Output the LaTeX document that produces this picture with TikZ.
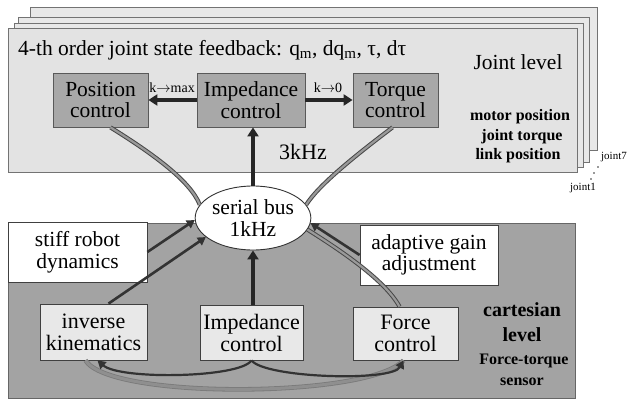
\documentclass[tikz,border=0pt]{standalone}
\usepackage{fontspec}
\setmainfont{Liberation Serif}
\usetikzlibrary{shapes.geometric,arrows.meta}
\newcommand{\fsz}[1]{\fontsize{#1}{#1}\selectfont}
\tikzset{
  sheet/.style={draw=black!55, fill=black!9, line width=0.8pt},
  panel/.style={draw=black!60, fill=black!36, line width=0.8pt},
  upbox/.style={draw=black!65, fill=black!34, line width=0.8pt, align=center, inner sep=0pt, font=\fsz{21.5}},
  lowbox/.style={draw=black!75, fill=black!9, line width=0.8pt, align=center, inner sep=0pt, font=\fsz{22}},
  whitebox/.style={draw=black!75, fill=white, line width=0.8pt, align=center, inner sep=0pt, font=\fsz{21.5}},
  lbl/.style={inner sep=0pt, font=\fsz{#1}},
  lbl/.default=20,
  thickarrow/.style={line width=3.5pt, black!85, -{Triangle[length=9pt,width=11pt]}},
  midarrow/.style={line width=2.6pt, black!80, -{Triangle[length=8pt,width=9pt]}},
  band/.style={draw=black!72, line width=1pt, double=black!40, double distance=2.2pt},
  lowband/.style={draw=black!52, line width=0.8pt, double=black!44, double distance=3pt},
}
\begin{document}
\begin{tikzpicture}[x=1pt,y=-1pt]
\useasboundingbox (0,0) rectangle (628,401);
% stacked joint sheets
\draw[sheet] (30,7) rectangle (597,150);
\draw[sheet] (18,17) rectangle (589,162);
\draw[sheet] (14,23) rectangle (583,167);
\draw[sheet, fill=black!11] (8,28) rectangle (577,172);
% cartesian panel
\draw[panel] (8,223) rectangle (575,398);

% joint level texts
\node[lbl=21.5, anchor=west] (title) at (18,50) {4-th order joint state feedback: q\textsubscript{m}, dq\textsubscript{m}, τ, dτ};
\node[lbl=21.5] (jl) at (518,62) {Joint level};
\node[lbl=16, font=\fsz{16}\bfseries] (mp) at (520,117) {motor position};
\node[lbl=16, font=\fsz{16}\bfseries] (jt) at (522,137) {joint torque};
\node[lbl=16, font=\fsz{16}\bfseries] (lp) at (518,156) {link position};
\node[lbl=11] (j7) at (614,157) {joint7};
\node[lbl=11] (j1) at (583,188) {joint1};
\fill[black!80] (598,167) circle (0.9) (594,173) circle (0.9) (591,179) circle (0.9);
\node[lbl=22] (khz3) at (303,152) {3kHz};

% upper boxes
\node[upbox, minimum width=95, minimum height=54] (pos) at (100.5,100) {Position\\control};
\node[upbox, minimum width=108, minimum height=54] (imp) at (251,100) {Impedance\\control};
\node[upbox, minimum width=85, minimum height=54] (tor) at (395.5,100) {Torque\\control};
\node[lbl=14] (kmax) at (172,88) {k$\to$max};
\node[lbl=14] (kzero) at (328,88) {k$\to$0};
\draw[thickarrow] (imp.west) -- (pos.east);
\draw[thickarrow] (imp.east) -- (tor.west);

% lower boxes
\node[whitebox, minimum width=139, minimum height=60] (stiff) at (77.5,252) {stiff robot\\dynamics};
\node[whitebox, minimum width=138, minimum height=60] (adapt) at (429,255) {adaptive gain\\adjustment};
\node[lowbox, minimum width=107, minimum height=56] (ik) at (93.5,332) {inverse\\kinematics};
\node[lowbox, minimum width=103, minimum height=55] (limp) at (251.5,332.5) {Impedance\\control};
\node[lowbox, minimum width=105, minimum height=53] (force) at (405.5,333.5) {Force\\control};
\node[lbl=20, font=\fsz{20}\bfseries] (cart) at (522,310) {cartesian};
\node[lbl=20, font=\fsz{20}\bfseries] (lev) at (522,335) {level};
\node[lbl=16, font=\fsz{16}\bfseries] (ft) at (524,361) {Force-torque};
\node[lbl=16, font=\fsz{16}\bfseries] (sen) at (522,382) {sensor};

% serial bus
\node[ellipse, draw=black!80, fill=white, line width=0.9pt, minimum width=97, minimum height=64, inner sep=0pt, align=center, font=\fsz{21.5}] (bus) at (253,218) {serial bus\\1kHz};

% bands between joint and cartesian level
\draw[band] ([xshift=10pt]pos.south) .. controls (150,152) and (190,180) .. (bus.166);
\draw[band] ([xshift=-3pt]tor.south) .. controls (352,158) and (318,186) .. (bus.14);
\draw[band] (bus.-12) .. controls (340,250) and (385,280) .. ([xshift=-6pt]force.north);

% arrows into the bus
\draw[midarrow] (stiff.east) -- (bus.182);
\draw[midarrow] ([xshift=15pt]ik.north) -- (bus.202);
\draw[midarrow] (adapt.west) -- (bus.-5);
\draw[thickarrow] (bus.north) -- (bus.north |- imp.south);
\draw[thickarrow] (limp.north -| bus.south) -- (bus.south);

% bottom curves
\draw[lowband] ([xshift=-8pt]ik.south) .. controls (110,400) and (370,398) .. ([xshift=-2pt]force.south);
\draw[midarrow, line width=2.2pt] (limp.south) .. controls (240,378) and (120,380) .. ([xshift=4pt]ik.south);
\draw[midarrow, line width=2.2pt] (limp.south) .. controls (265,378) and (392,382) .. ([xshift=-2pt]force.south);
\end{tikzpicture}
\end{document}
